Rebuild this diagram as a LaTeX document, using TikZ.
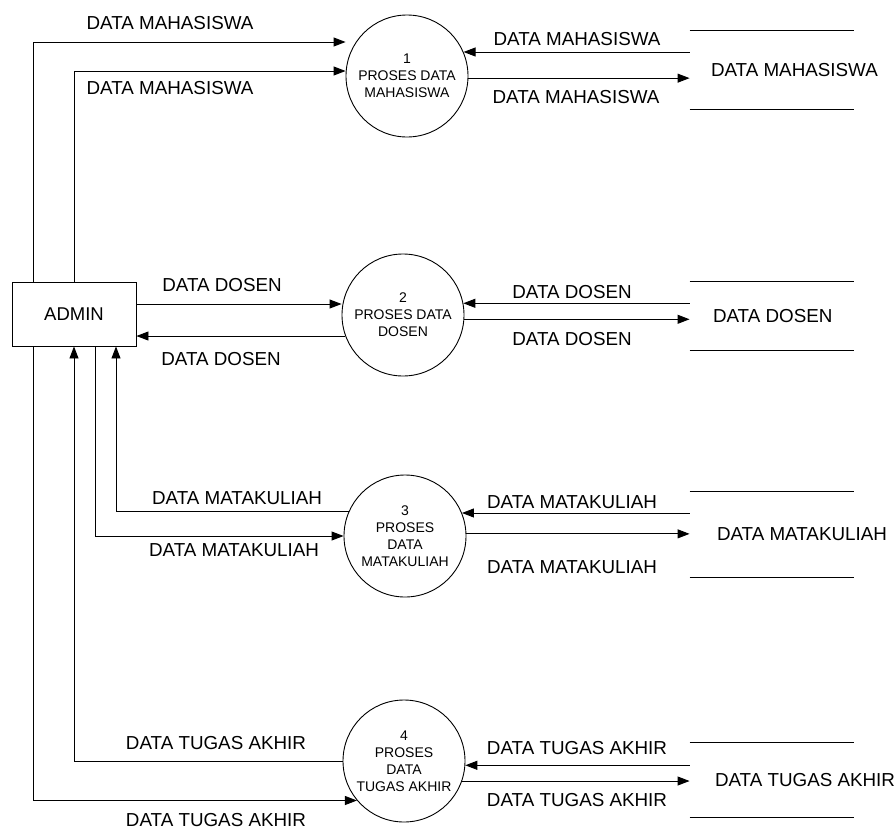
\documentclass[tikz,border=0pt]{standalone}
\usepackage{fontspec}
\setmainfont{Liberation Sans}
\usetikzlibrary{arrows.meta}

\begin{document}
\begin{tikzpicture}[x=1pt, y=-1pt, line width=0.9pt,
    proc/.style={draw, circle, minimum size=122pt, inner sep=0pt, align=center, font=\fontsize{14}{17}\selectfont},
    entity/.style={draw, rectangle, minimum width=124pt, minimum height=64pt, font=\fontsize{18.5}{21}\selectfont},
    store/.style={minimum width=164pt, inner sep=0pt},
    flow/.style={-{Triangle[length=12pt,width=9pt]}},
    lbl/.style={font=\fontsize{18.8}{21}\selectfont, inner sep=0pt}]
    \useasboundingbox (0,0) rectangle (894,830);

    % The admin entity
    \node[entity] (admin) at (74,314) {ADMIN};

    % Processes
    \node[proc] (p1) at (407,76) {1\\PROSES DATA\\MAHASISWA};
    \node[proc] (p2) at (403,315) {2\\PROSES DATA\\DOSEN};
    \node[proc] (p3) at (405,536) {3\\PROSES\\DATA\\MATAKULIAH};
    \node[proc] (p4) at (404,761) {4\\PROSES\\DATA\\TUGAS AKHIR};

    % Data stores
    \node[store, minimum height=78pt] (s1) at (772,70) {};
    \draw (s1.north west) -- (s1.north east) (s1.south west) -- (s1.south east);
    \node[lbl, anchor=west] (s1t) at ([xshift=21pt]s1.west) {DATA MAHASISWA};
    \node[store, minimum height=68pt] (s2) at (772,316) {};
    \draw (s2.north west) -- (s2.north east) (s2.south west) -- (s2.south east);
    \node[lbl, anchor=west] (s2t) at ([xshift=23pt]s2.west) {DATA DOSEN};
    \node[store, minimum height=85pt] (s3) at (772,534.5) {};
    \draw (s3.north west) -- (s3.north east) (s3.south west) -- (s3.south east);
    \node[lbl, anchor=west] (s3t) at ([xshift=27pt]s3.west) {DATA MATAKULIAH};
    \node[store, minimum height=74pt] (s4) at (772,780) {};
    \draw (s4.north west) -- (s4.north east) (s4.south west) -- (s4.south east);
    \node[lbl, anchor=west] (s4t) at ([xshift=25pt]s4.west) {DATA TUGAS AKHIR};

    % Flows between admin and processes
    \coordinate (b1) at (33,42);
    \coordinate (b2) at (74,71);
    \coordinate (d1) at ([yshift=10pt]admin.east);
    \draw[flow] (admin.north -| b1) |- (p1.west |- b1);
    \draw[flow] (admin.north) |- (p1.west |- b2);
    \draw[flow] (d1) -- (d1 -| p2.west);
    \draw[flow] (p2.200) -- (p2.200 -| admin.east);
    \draw[flow] (p3.156) -| ([xshift=42pt]admin.south);
    \draw[flow] ([xshift=21pt]admin.south) |- (p3.west);
    \draw[flow] (p4.west) -| (admin.south);
    \draw[flow] (admin.south -| b1) |- (p4.220);

    % Flows between processes and stores
    \draw[flow] (s1.west |- p1.23) -- (p1.23);
    \draw[flow] (p1.-2) -- (p1.-2 -| s1.west);
    \draw[flow] (s2.west |- p2.11) -- (p2.11);
    \draw[flow] (p2.-4) -- (p2.-4 -| s2.west);
    \draw[flow] (s3.west |- p3.22) -- (p3.22);
    \draw[flow] (p3.2) -- (p3.2 -| s3.west);
    \draw[flow] (s4.west |- p4.-4) -- (p4.-4);
    \draw[flow] (p4.-19) -- (p4.-19 -| s4.west);

    % Flow labels, left
    \node[lbl] (l1a) at (170,23) {DATA MAHASISWA};
    \node[lbl] (l1b) at (170,88) {DATA MAHASISWA};
    \node[lbl] (l2a) at (222,285) {DATA DOSEN};
    \node[lbl] (l2b) at (221,359) {DATA DOSEN};
    \node[lbl] (l3a) at (237,498) {DATA MATAKULIAH};
    \node[lbl] (l3b) at (234,550) {DATA MATAKULIAH};
    \node[lbl] (l4a) at (216,743) {DATA TUGAS AKHIR};
    \node[lbl] (l4b) at (216,820) {DATA TUGAS AKHIR};

    % Flow labels, right
    \node[lbl] (r1a) at (577,39) {DATA MAHASISWA};
    \node[lbl] (r1b) at (576,97) {DATA MAHASISWA};
    \node[lbl] (r2a) at (572,292) {DATA DOSEN};
    \node[lbl] (r2b) at (572,339) {DATA DOSEN};
    \node[lbl] (r3a) at (572,502) {DATA MATAKULIAH};
    \node[lbl] (r3b) at (572,567) {DATA MATAKULIAH};
    \node[lbl] (r4a) at (577,748) {DATA TUGAS AKHIR};
    \node[lbl] (r4b) at (577,800) {DATA TUGAS AKHIR};
\end{tikzpicture}
\end{document}
